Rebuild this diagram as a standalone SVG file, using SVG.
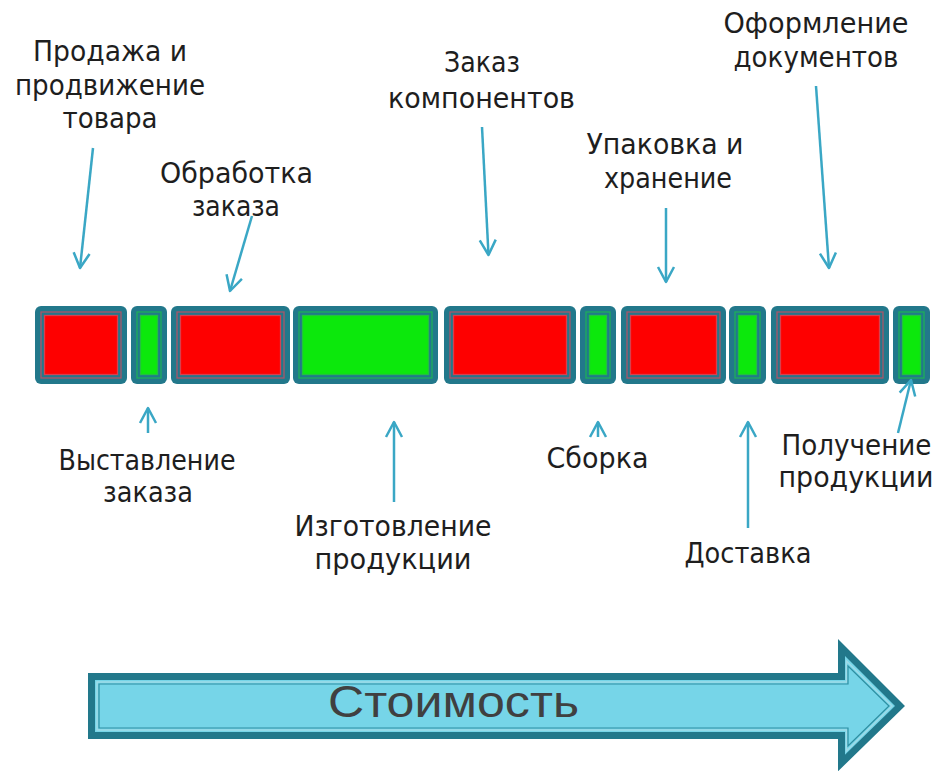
<svg xmlns="http://www.w3.org/2000/svg" width="936" height="771" viewBox="0 0 936 771">
<defs>
<style>
.outer{fill:#22788b}
.r1{fill:none;stroke:#a8566a;stroke-width:1.3}
.r2{fill:#fe0000;stroke:#d8404e;stroke-width:1.3}
.g1{fill:none;stroke:#1eae5a;stroke-width:1.3}
.g2{fill:#0ce80c;stroke:#22c040;stroke-width:1.3}
.lbl{font-family:"DejaVu Sans Condensed","DejaVu Sans",sans-serif;font-stretch:condensed;font-size:29px;fill:#1e1e1e;text-anchor:middle}
.con{stroke:#3aa7c5;stroke-width:2.5;fill:none;marker-end:url(#ah)}
</style>
<marker id="ah" viewBox="-17 -10 20 20" refX="0" refY="0" markerWidth="20" markerHeight="20" markerUnits="userSpaceOnUse" orient="auto">
<path d="M-15,-8 L0,0 L-15,8" fill="none" stroke="#3aa7c5" stroke-width="2.5" stroke-linejoin="round"/>
</marker>
</defs>
<rect width="936" height="771" fill="#ffffff"/>

<!-- blocks -->
<g id="b1"><rect class="outer" x="35" y="306" width="92" height="78" rx="6"/><rect class="r1" x="41" y="312" width="80" height="66"/><rect class="r2" x="44.5" y="315.5" width="73" height="59"/></g>
<g id="b2"><rect class="outer" x="131" y="306" width="36" height="78" rx="6"/><rect class="g1" x="137" y="312" width="24" height="66"/><rect class="g2" x="140.5" y="315.5" width="17" height="59"/></g>
<g id="b3"><rect class="outer" x="171" y="306" width="119" height="78" rx="6"/><rect class="r1" x="177" y="312" width="107" height="66"/><rect class="r2" x="180.5" y="315.5" width="100" height="59"/></g>
<g id="b4"><rect class="outer" x="293" y="306" width="145" height="78" rx="6"/><rect class="g1" x="299" y="312" width="133" height="66"/><rect class="g2" x="302.5" y="315.5" width="126" height="59"/></g>
<g id="b5"><rect class="outer" x="444" y="306" width="132" height="78" rx="6"/><rect class="r1" x="450" y="312" width="120" height="66"/><rect class="r2" x="453.5" y="315.5" width="113" height="59"/></g>
<g id="b6"><rect class="outer" x="580" y="306" width="36" height="78" rx="6"/><rect class="g1" x="586" y="312" width="24" height="66"/><rect class="g2" x="589.5" y="315.5" width="17" height="59"/></g>
<g id="b7"><rect class="outer" x="621" y="306" width="105" height="78" rx="6"/><rect class="r1" x="627" y="312" width="93" height="66"/><rect class="r2" x="630.5" y="315.5" width="86" height="59"/></g>
<g id="b8"><rect class="outer" x="729" y="306" width="37" height="78" rx="6"/><rect class="g1" x="735" y="312" width="25" height="66"/><rect class="g2" x="738.5" y="315.5" width="18" height="59"/></g>
<g id="b9"><rect class="outer" x="771" y="306" width="118" height="78" rx="6"/><rect class="r1" x="777" y="312" width="106" height="66"/><rect class="r2" x="780.5" y="315.5" width="99" height="59"/></g>
<g id="b10"><rect class="outer" x="893" y="306" width="37" height="78" rx="6"/><rect class="g1" x="899" y="312" width="25" height="66"/><rect class="g2" x="902.5" y="315.5" width="18" height="59"/></g>

<!-- labels -->
<g id="l-prodazha"><text class="lbl" x="110" y="61" textLength="154" lengthAdjust="spacingAndGlyphs">Продажа и</text><text class="lbl" x="110" y="95" textLength="190" lengthAdjust="spacingAndGlyphs">продвижение</text><text class="lbl" x="110" y="128" textLength="95" lengthAdjust="spacingAndGlyphs">товара</text></g>
<g id="l-obrabotka"><text class="lbl" x="236.5" y="183" textLength="153" lengthAdjust="spacingAndGlyphs">Обработка</text><text class="lbl" x="236" y="216" textLength="88" lengthAdjust="spacingAndGlyphs">заказа</text></g>
<g id="l-zakaz-komp"><text class="lbl" x="482" y="72" textLength="76" lengthAdjust="spacingAndGlyphs">Заказ</text><text class="lbl" x="481.5" y="108" textLength="187" lengthAdjust="spacingAndGlyphs">компонентов</text></g>
<g id="l-upakovka"><text class="lbl" x="665" y="154" textLength="157" lengthAdjust="spacingAndGlyphs">Упаковка и</text><text class="lbl" x="668" y="188" textLength="128" lengthAdjust="spacingAndGlyphs">хранение</text></g>
<g id="l-oformlenie"><text class="lbl" x="816" y="33" textLength="185" lengthAdjust="spacingAndGlyphs">Оформление</text><text class="lbl" x="816" y="67" textLength="165" lengthAdjust="spacingAndGlyphs">документов</text></g>
<g id="l-vystavlenie"><text class="lbl" x="147" y="470" textLength="177" lengthAdjust="spacingAndGlyphs">Выставление</text><text class="lbl" x="148" y="502" textLength="90" lengthAdjust="spacingAndGlyphs">заказа</text></g>
<g id="l-izgotovlenie"><text class="lbl" x="393" y="536" textLength="197" lengthAdjust="spacingAndGlyphs">Изготовление</text><text class="lbl" x="393" y="569" textLength="157" lengthAdjust="spacingAndGlyphs">продукции</text></g>
<g id="l-sborka"><text class="lbl" x="597.5" y="468" textLength="102" lengthAdjust="spacingAndGlyphs">Сборка</text></g>
<g id="l-poluchenie"><text class="lbl" x="856.5" y="455" textLength="150" lengthAdjust="spacingAndGlyphs">Получение</text><text class="lbl" x="856" y="487" textLength="155" lengthAdjust="spacingAndGlyphs">продукции</text></g>
<g id="l-dostavka"><text class="lbl" x="748" y="563" textLength="127" lengthAdjust="spacingAndGlyphs">Доставка</text></g>

<!-- connectors -->
<g id="connectors">
<line class="con" x1="93" y1="148" x2="80" y2="268"/>
<line class="con" x1="252" y1="216" x2="230" y2="291"/>
<line class="con" x1="482" y1="127" x2="488.5" y2="255"/>
<line class="con" x1="666" y1="208" x2="666" y2="282"/>
<line class="con" x1="816" y1="86" x2="829" y2="268"/>
<line class="con" x1="148" y1="433" x2="148" y2="408"/>
<line class="con" x1="394" y1="502" x2="394" y2="422"/>
<line class="con" x1="598" y1="437" x2="598" y2="422"/>
<line class="con" x1="748" y1="528" x2="748" y2="422"/>
<line class="con" x1="898" y1="433" x2="911" y2="380"/>
</g>

<!-- cost arrow -->
<g id="cost-arrow">
<path d="M91.5,676.5 H841.5 V647.5 L900,706 L841.5,763 V735.5 H91.5 Z" fill="#76d5e8" stroke="#22788b" stroke-width="7" stroke-linejoin="miter"/>
<path d="M97,682 H846.5 V661 L892,706 L846.5,751 V730 H97 Z" fill="none" stroke="#9fdbe8" stroke-width="1.5"/>
<path d="M99,684 H848 V666 L889,706 L848,746 V728 H99 Z" fill="none" stroke="#2e8ea1" stroke-width="1.2"/>
<text x="453.5" y="717" font-family="'Liberation Sans',Arial,sans-serif" font-size="44" fill="#404040" text-anchor="middle" textLength="251" lengthAdjust="spacingAndGlyphs">Стоимость</text>
</g>
</svg>
